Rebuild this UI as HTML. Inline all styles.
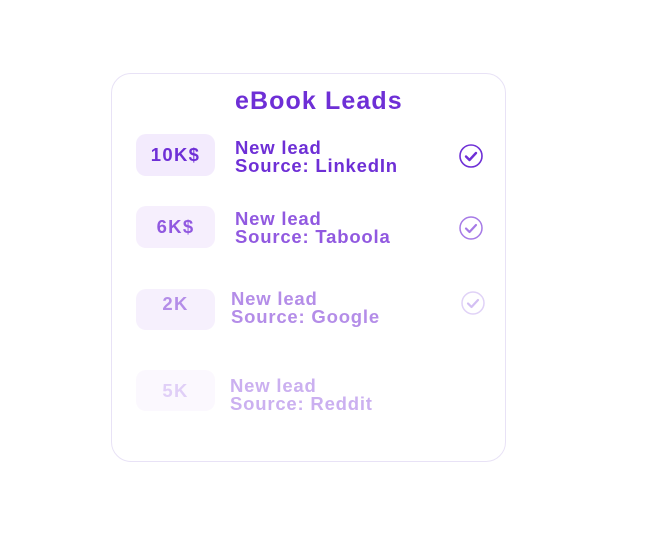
<!DOCTYPE html><html><head><style>
body{margin:0;width:662px;height:535px;background:#fff;position:relative;font-family:"Liberation Sans",sans-serif;font-weight:bold;overflow:hidden}
.card{position:absolute;left:111px;top:73px;width:393px;height:387px;border:1px solid #e8e2f6;border-radius:20px}
.t{position:absolute;left:235px;top:87px;white-space:nowrap;font-size:25px;letter-spacing:1.1px;color:#6e2fd6}
.pill{position:absolute;left:136px;width:79px;height:42px;border-radius:10px;text-align:center;line-height:42px;font-size:18.5px;letter-spacing:1.3px}
.tx{position:absolute;font-size:18.5px;line-height:18px;white-space:nowrap;letter-spacing:0.8px}
svg{position:absolute}
</style></head><body>
<div class="card"></div>
<div class="t">eBook Leads</div>
<div class="pill" style="top:134px;background:#f3ebfd;color:#6e2fd6">10K$</div>
<div class="tx" style="left:235px;top:139px;color:#6e2fd6">New lead<br>Source: LinkedIn</div>
<svg style="left:458px;top:143px" width="26" height="26"><circle cx="13" cy="13" r="11" fill="none" stroke="#6e2fd6" stroke-width="1.6"/><path d="M8 13.5l3.5 3.5 6.5-7" fill="none" stroke="#6e2fd6" stroke-width="2.4" stroke-linecap="round" stroke-linejoin="round"/></svg>
<div class="pill" style="top:206px;background:#f6effd;color:#9159e0">6K$</div>
<div class="tx" style="left:235px;top:210px;color:#9159e0">New lead<br>Source: Taboola</div>
<svg style="left:458px;top:215px" width="26" height="26"><circle cx="13" cy="13" r="11" fill="none" stroke="#a67ae6" stroke-width="1.5"/><path d="M8 13.5l3.5 3.5 6.5-7" fill="none" stroke="#a67ae6" stroke-width="2.2" stroke-linecap="round" stroke-linejoin="round"/></svg>
<div class="pill" style="top:289px;height:41px;line-height:30px;background:#f6f0fd;color:#b48de8">2K</div>
<div class="tx" style="left:231px;top:290px;color:#b48de8">New lead<br>Source: Google</div>
<svg style="left:460px;top:290px" width="26" height="26"><circle cx="13" cy="13" r="11" fill="none" stroke="#e0d2f7" stroke-width="1.5"/><path d="M8 13.5l3.5 3.5 6.5-7" fill="none" stroke="#d3bff3" stroke-width="2.2" stroke-linecap="round" stroke-linejoin="round"/></svg>
<div class="pill" style="top:370px;height:41px;background:#fbf8fe;color:#e0cff7">5K</div>
<div class="tx" style="left:230px;top:377px;color:#cbb0f0">New lead<br>Source: Reddit</div>
</body></html>
